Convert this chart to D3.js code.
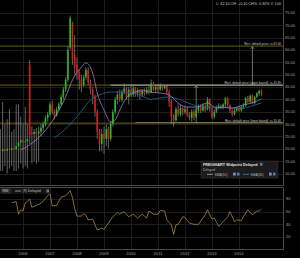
<!DOCTYPE html>
<html><head><meta charset="utf-8">
<script src="https://cdn.jsdelivr.net/npm/d3@7"></script>
<style>html,body{margin:0;padding:0;background:#000;}svg{display:block;font-family:"Liberation Sans",Arial,sans-serif;}</style>
</head><body>
<svg id="c" width="300" height="258"></svg>
<script>
// ---- data ----
const firstMonth = "2005-03", lastMonth = "2014-11";
const open  = [19.5,19.0,19.8,19.2,20.0,19.5,20.2,19.8,21.0,22.5,
  23.5,22.8,23.0,54.0,26.5,26.0,26.8,26.2,27.0,28.5,30.0,32.5,
  34,38,35,33.5,36,38,41,44,48,61,71,58,
  54,51,48,46,49,52,47,44,41,35,27,22,
  26,24,28,24,30,35,40,42,40,43,44.5,41,
  44,42,44.5,42.5,43.5,42,43.5,42.5,44,43,46.5,44,
  45,44,45.5,44.5,45.5,43,39,33,31.5,36,34,36.5,
  35,36,34,32.5,35,33,35.5,37,35.5,37.5,36,40,
  36,33,35,36.5,37.5,36.5,38,40.5,37.5,35.5,34,35.5,
  36.5,35.5,37,37.5,40.5,39,41.5,38.5,41,42.5,43.5];
const high  = [28,39,30,32,36,27,28,38,38,33,
  30,37,30,56,29,28,28.5,29,30,31,33.5,35,
  39,39.5,36,37,39,42,45,49,61.5,74,71.5,66,
  57,52,50,50,53,53,48,45,42,36,28,28,
  29,30,29,31,36,41,43.5,44,44,46.5,45,45,
  46,45.5,45,44.5,44,44,44.5,45,45.5,48,47,46,
  46,46.5,46,46,46,44,40,34,37,38,38,37,
  37.5,37,35,36,36,36.5,38,38,38.5,38,41,40.5,
  37,36,37.5,38.5,38,38.5,41,41,38,36,36.5,37,
  37.5,37.5,38.5,41,41.5,42,42,41.5,43,44,44];
const low   = [11,11,13,10,12,13,11,11,12,14,
  12,13,12,22,14,15,14,15,25,27,29,31,
  33,34,32,33,35.5,37.5,40,43,47,60,54,50,
  48,44,43,45,48,46,42,38,33,24,19,19,
  18,21,20,23,29,34,38,39,39,42,40,38,
  41,41,41,41,40,41,41.5,42,42,42.5,43.5,43,
  43,43.5,43.5,44,42,37,30,29,31,33,33,33.5,
  34,33,31.5,31,31.5,32.5,34.5,34.5,35,35,35.5,35,
  32,32,34.5,36,36,36,37,37,34.5,33,33.5,35,
  35,35,36,37,38.5,38.5,38,38,40.5,41.5,41.5];
const close = [19.0,19.8,19.2,20.0,19.5,20.2,19.8,21.0,22.5,23.5,
  22.8,23.0,24.0,25.5,26.0,26.8,26.2,27.0,28.5,30.0,32.5,34.0,
  38,35,33.5,36,38,41,44,48,60,73,56,53,
  51,48,46,49,52,47,44,41,35,27,22,26,
  24,28,24,30,35,40,42,40,43,44.5,41,44,
  42,44.5,42.5,43.5,42,43.5,42.5,44,43,46.5,44,45,
  44,45.5,44.5,45.5,43,39,33,31.5,36,34,36.5,35,
  36,34,32.5,35,33,35.5,37,35.5,37.5,36,40,36,
  33,35,36.5,37.5,36.5,38,40.5,37.5,35.5,34,35.5,36.5,
  35.5,37,37.5,40.5,39,41.5,38.5,41,42.5,43.5,42.1];

const sma10Dates = ["2005-12","2006-04","2006-10","2007-03","2007-08","2007-11","2008-03","2008-05","2008-08","2008-10",
  "2009-01","2009-04","2009-06","2009-08","2009-11","2010-02","2010-06","2010-09","2011-02","2011-06",
  "2011-11","2012-02","2012-06","2012-11","2013-03","2013-06","2013-10","2014-03","2014-07","2014-11"];
const sma10Values = [19.5,21.6,26.4,32.5,41,47.9,53.1,54.8,50.7,42.6,
  35.7,30.9,31.7,35.7,40.6,42.6,43.8,43,42.6,41.8,
  37.8,36.9,36.9,38.6,36.5,36.9,36.5,37.8,38.6,40.2];
const sma30Dates = ["2007-03","2007-09","2008-01","2008-04","2008-07","2008-11","2009-04","2009-09","2010-02","2010-07",
  "2010-10","2011-02","2011-06","2011-11","2012-04","2012-09","2013-03","2013-10","2014-03","2014-07","2014-11"];
const sma30Values = [24.4,29,33,36.5,39.8,41.8,43,43,42.6,41,
  40,40.6,41,39.8,38,36.9,36.9,36.5,36.5,37.4,38.6];

const rsiDates = ["2005-08","2005-10","2005-11","2005-12","2006-01","2006-02","2006-03","2006-04","2006-05","2006-07",
  "2006-09","2006-10","2007-01","2007-02","2007-04","2007-06","2007-08","2007-10","2007-11","2007-12",
  "2008-01","2008-03","2008-04","2008-05","2008-06","2008-08","2008-10","2008-12","2009-01","2009-05",
  "2009-07","2009-08","2009-10","2009-12","2010-02","2010-04","2010-06","2010-08","2010-09","2010-11",
  "2011-01","2011-02","2011-04","2011-05","2011-07","2011-08","2011-09","2011-10","2011-12","2012-01",
  "2012-02","2012-03","2012-05","2012-07","2012-09","2012-10","2012-11","2013-01","2013-02","2013-04",
  "2013-06","2013-08","2013-09","2013-11","2013-12","2014-02","2014-03","2014-05","2014-07","2014-09",
  "2014-10","2014-11"];
const rsiValues = [74,76,56,63,61,74,76,80,67,70,
  73,77,89,69,70,83,85,93,82,65,
  53,53,57,54,47,48,31,34,32,52,
  59,56,60,52,56,50,56,50,61,56,
  56,62,61,47,39,24,39,40,52,51,
  46,42,40,40,50,55,63,48,50,37,
  44,52,60,44,47,46,52,63,55,61,
  61,64];

const priceTicks = [75,70,65,60,55,50,45,40,35,30,25,20,15,10];
const rsiTicks = [80,60,40,20];
const yearTicks = ["2006","2007","2008","2009","2010","2011","2012","2013","2014"];

const levelValues = [61.6, 45.8, 30.4];
const levelLabels = ["Rect. default price >= 61.60",
  "Rect. default price (upper bound) >= 45.80",
  "Rect. default price (lower bound) >= 30.40"];
const rectStart = "2009-04", rectBottomStart = "2010-03";
const arrowDates = ["2012-06","2014-07"];
const quoteText = "L: 42.10  CH: +0.10  CH%: 0.30%  V: 100";
const legendTitle = "FREIGHART Midpoint Delayed";

// ---- drawing ----
const pm = d3.timeParse("%Y-%m");
const months = d3.timeMonth.range(pm(firstMonth), d3.timeMonth.offset(pm(lastMonth),1));
const candles = months.map((d,i)=>({d, o:open[i], h:high[i], l:low[i], c:close[i]}));

const svg = d3.select("#c");
svg.append("rect").attr("width",300).attr("height",258).attr("fill","#000");

const x = d3.scaleTime().domain([new Date(2006,0,1), new Date(2014,0,1)]).range([23,239]);
const y = d3.scaleLinear().domain([10,75]).range([173.5,13]);
const yr = d3.scaleLinear().domain([20,80]).range([237,199]);
const right = 283;

// grid main
const g = svg.append("g");
g.selectAll(".hg").data(priceTicks).join("line")
  .attr("x1",0).attr("x2",right).attr("y1",d=>Math.round(y(d))+0.5).attr("y2",d=>Math.round(y(d))+0.5)
  .attr("stroke","#1c1c1c").attr("stroke-width",1);
g.selectAll(".vg").data(yearTicks).join("line")
  .attr("x1",d=>Math.round(x(pm(d+"-01")))+0.5).attr("x2",d=>Math.round(x(pm(d+"-01")))+0.5)
  .attr("y1",0).attr("y2",185).attr("stroke","#1c1c1c");
g.selectAll(".vg2").data(yearTicks).join("line")
  .attr("x1",d=>Math.round(x(pm(d+"-01")))+0.5).attr("x2",d=>Math.round(x(pm(d+"-01")))+0.5)
  .attr("y1",187).attr("y2",249).attr("stroke","#1c1c1c");
g.selectAll(".rg").data(rsiTicks).join("line")
  .attr("x1",0).attr("x2",right).attr("y1",d=>Math.round(yr(d))+0.5).attr("y2",d=>Math.round(yr(d))+0.5)
  .attr("stroke","#1c1c1c");

// level lines
const lv = svg.append("g");
lv.selectAll("line.lvl").data(levelValues).join("line")
  .attr("x1",0).attr("x2",right).attr("y1",d=>y(d)).attr("y2",d=>y(d))
  .attr("stroke","#6e6b1e").attr("stroke-width",0.9);
lv.append("line").attr("x1",x(pm(rectStart))).attr("x2",right)
  .attr("y1",y(levelValues[1])).attr("y2",y(levelValues[1])).attr("stroke","#bdbdbd").attr("stroke-width",0.9);
lv.append("line").attr("x1",x(pm(rectBottomStart))).attr("x2",right)
  .attr("y1",y(levelValues[2])-0.6).attr("y2",y(levelValues[2])-0.6).attr("stroke","#a8a27a").attr("stroke-width",0.6);
// arrows
const arrows = [{d:arrowDates[0], from:levelValues[2], to:levelValues[1]},{d:arrowDates[1], from:levelValues[1], to:levelValues[0]}];
arrows.forEach(a=>{
  const ax = x(pm(a.d));
  lv.append("line").attr("x1",ax).attr("x2",ax).attr("y1",y(a.from)).attr("y2",y(a.to)+0.5)
    .attr("stroke","#9a9a9a").attr("stroke-width",0.7);
  lv.append("path").attr("d",`M${ax-1.8},${y(a.to)+2.8}L${ax},${y(a.to)+0.6}L${ax+1.8},${y(a.to)+2.8}`)
    .attr("fill","none").attr("stroke","#9a9a9a").attr("stroke-width",0.7);
});
lv.selectAll("text.lvl").data(levelValues).join("text")
  .attr("x",281).attr("y",d=>y(d)-1.2).attr("text-anchor","end")
  .attr("font-size",3).attr("fill","#c8c8c8").text((d,i)=>levelLabels[i]);

// candles
const cw = 1.6;
const cg = svg.append("g");
cg.selectAll("line.wick").data(candles).join("line")
  .attr("x1",d=>x(d.d)).attr("x2",d=>x(d.d)).attr("y1",d=>y(d.h)).attr("y2",d=>y(d.l))
  .attr("stroke","#8c8c8c").attr("stroke-width",0.7);
cg.selectAll("rect.body").data(candles).join("rect")
  .attr("x",d=>x(d.d)-cw/2).attr("width",cw)
  .attr("y",d=>y(Math.max(d.o,d.c))).attr("height",d=>Math.max(0.8,Math.abs(y(d.o)-y(d.c))))
  .attr("fill",d=>d.c>=d.o?"#1fbf1f":"#d81a1a");

// SMAs
const line = d3.line().x(d=>x(d.d)).y(d=>y(d.v)).curve(d3.curveMonotoneX);
svg.append("path").datum(sma30Dates.map((d,i)=>({d:pm(d),v:sma30Values[i]})))
  .attr("d",line).attr("fill","none").attr("stroke","#1c5f8e").attr("stroke-width",0.9);
svg.append("path").datum(sma10Dates.map((d,i)=>({d:pm(d),v:sma10Values[i]})))
  .attr("d",line).attr("fill","none").attr("stroke","#9a80c4").attr("stroke-width",0.8);

// panel borders
svg.append("line").attr("x1",0).attr("x2",right+0.5).attr("y1",185.5).attr("y2",185.5).attr("stroke","#4a4a4a");
svg.append("line").attr("x1",0).attr("x2",right+0.5).attr("y1",187.5).attr("y2",187.5).attr("stroke","#4a4a4a");
svg.append("line").attr("x1",0).attr("x2",right+0.5).attr("y1",249.5).attr("y2",249.5).attr("stroke","#4a4a4a");
svg.append("line").attr("x1",right+0.5).attr("x2",right+0.5).attr("y1",0).attr("y2",185.5).attr("stroke","#4a4a4a");
svg.append("line").attr("x1",right+0.5).attr("x2",right+0.5).attr("y1",187.5).attr("y2",249.5).attr("stroke","#4a4a4a");

// axes labels
svg.append("g").selectAll("text").data(priceTicks).join("text")
  .attr("x",285).attr("y",d=>y(d)+1.4).attr("font-size",4).attr("fill","#a0a0a0").text(d=>d.toFixed(2));
svg.append("g").selectAll("text").data(rsiTicks).join("text")
  .attr("x",286).attr("y",d=>yr(d)+1.4).attr("font-size",4).attr("fill","#a0a0a0").text(d=>d);
svg.append("g").selectAll("text").data(yearTicks).join("text")
  .attr("x",d=>x(pm(d+"-01"))).attr("y",254.5).attr("text-anchor","middle")
  .attr("font-size",4.2).attr("fill","#a0a0a0").text(d=>d);

// RSI line
const rline = d3.line().x(d=>x(d.d)).y(d=>yr(d.v));
svg.append("path").datum(rsiDates.map((d,i)=>({d:pm(d),v:rsiValues[i]})))
  .attr("d",rline).attr("fill","none").attr("stroke","#a8874a").attr("stroke-width",0.8);

// RSI header
svg.append("rect").attr("x",0).attr("y",188).attr("width",50).attr("height",6).attr("fill","#141414");
svg.append("rect").attr("x",1).attr("y",188.5).attr("width",10).attr("height",5).attr("fill","#2a2a2a");
svg.append("text").attr("x",2.5).attr("y",192.4).attr("font-size",3.5).attr("fill","#d0d0d0").text("RSI");
svg.append("line").attr("x1",15).attr("x2",21).attr("y1",191).attr("y2",191).attr("stroke","#a8874a").attr("stroke-width",1);
svg.append("text").attr("x",22.5).attr("y",192.4).attr("font-size",3.5).attr("fill","#c0c0c0").text("(9) Delayed");
svg.append("rect").attr("x",46.5).attr("y",189.5).attr("width",2.5).attr("height",3).attr("fill","#5a7aa0");

// top quote text
svg.append("text").attr("x",281).attr("y",5).attr("text-anchor","end").attr("font-size",3.7)
  .attr("fill","#c8c8c8").text(quoteText);

// legend box
const lg = svg.append("g");
lg.append("rect").attr("x",201).attr("y",161).attr("width",77).attr("height",17)
  .attr("fill","#1b1b1b").attr("stroke","#3a3a3a").attr("stroke-width",0.5);
lg.append("text").attr("x",203).attr("y",165.8).attr("font-size",3.8).attr("font-weight","bold")
  .attr("fill","#e0e0e0").text(legendTitle);
lg.append("rect").attr("x",260).attr("y",162.8).attr("width",2.5).attr("height",3).attr("fill","#5a7aa0");
lg.append("text").attr("x",203).attr("y",170.5).attr("font-size",3.3).attr("fill","#a8a8a8").text("Delayed");
lg.append("line").attr("x1",207).attr("x2",213).attr("y1",174.3).attr("y2",174.3).attr("stroke","#9a80c4").attr("stroke-width",1);
lg.append("text").attr("x",214.5).attr("y",175.5).attr("font-size",3.3).attr("fill","#b8b8b8").text("SMA(10)");
lg.append("rect").attr("x",233).attr("y",172.6).attr("width",2.8).attr("height",3).attr("fill","#6d8fb8");
lg.append("rect").attr("x",237).attr("y",172.6).attr("width",2.5).attr("height",3).attr("fill","#5a7aa0");
lg.append("line").attr("x1",243).attr("x2",249).attr("y1",174.3).attr("y2",174.3).attr("stroke","#2a77b5").attr("stroke-width",1);
lg.append("text").attr("x",250.5).attr("y",175.5).attr("font-size",3.3).attr("fill","#b8b8b8").text("SMA(30)");
lg.append("rect").attr("x",269).attr("y",172.6).attr("width",2.8).attr("height",3).attr("fill","#6d8fb8");
lg.append("rect").attr("x",273).attr("y",172.6).attr("width",2.5).attr("height",3).attr("fill","#5a7aa0");
</script>
</body></html>
